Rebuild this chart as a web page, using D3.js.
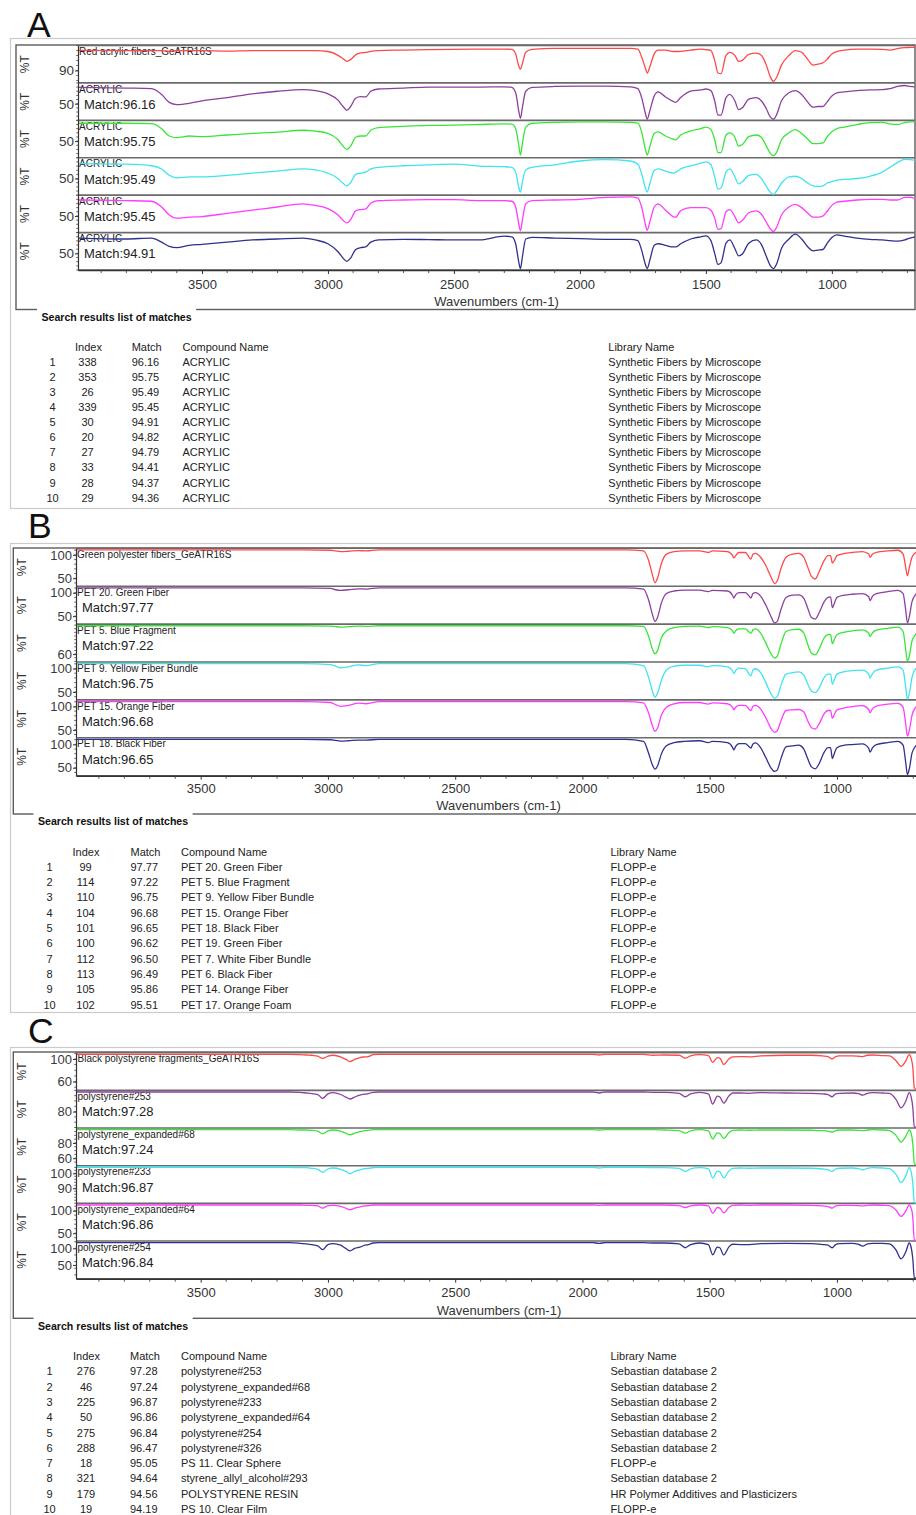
<!DOCTYPE html>
<html>
<head>
<meta charset="utf-8">
<script src="https://cdn.jsdelivr.net/npm/d3@7"></script>
<style>
  body { margin: 0; background: #fff; }
  svg { display: block; }
</style>
</head>
<body>
<svg id="fig" width="916" height="1515"></svg>
<script>
// ---------- Panel A: acrylic fibres ----------
const aWn = [3990,3800,3700,3660,3630,3600,3550,3500,3400,3300, 3200,3100,3050,3000,2960,2940,2925,2910,2890,2870,
  2850,2830,2800,2700,2600,2500,2400,2300,2270,2255, 2242,2236,2228,2215,2190,2100,2000,1900,1800,1770,
  1755,1740,1733,1722,1705,1690,1660,1630,1620,1600, 1560,1520,1500,1480,1465,1452,1440,1420,1405,1385,
  1370,1355,1330,1300,1280,1260,1245,1232,1220,1200, 1170,1145,1120,1095,1075,1055,1035,1020,1000,980,
  950,900,850,800,770,740,710,690,670];
const aRedSample = [98.4,98.3,98.3,98.3,98.1,98.3,98.3,98.3,98.1,98.3, 98.3,98.3,98.3,97.9,96.3,94.9,93.8,94.5,96.5,97.3,
  97.5,98.0,98.3,98.5,98.7,98.8,98.9,98.9,98.8,96.9, 91.6,90.5,92.9,97.6,98.8,99.2,99.2,99.2,99.2,98.9,
  95.6,90.9,88.9,91.6,96.9,98.5,98.5,97.9,97.9,98.0, 98.5,98.9,98.7,98.3,94.2,88.9,88.6,96.3,97.5,96.3,
  93.8,94.2,96.7,97.2,96.3,92.2,87.5,85.4,86.9,92.2, 96.3,98.3,97.6,94.5,92.2,92.6,93.2,94.5,96.9,97.9,
  98.5,98.9,98.9,98.8,98.5,99.1,99.5,99.6,99.7];
const aAcrylic338 = [91.2,89.6,88.0,73.6,53.6,48.0,51.2,57.6,65.6,75.2, 81.6,85.6,83.2,75.2,59.2,43.2,33.6,43.2,64.0,68.0,
  67.2,81.6,87.2,89.6,92.0,92.0,92.0,92.8,91.2,77.6, 29.6,13.6,41.6,81.6,91.2,93.6,94.4,94.4,92.8,88.0,
  65.6,25.6,11.2,33.6,69.6,80.0,67.2,56.0,53.6,65.6, 81.6,84.8,87.2,83.2,57.6,21.6,21.6,65.6,73.6,57.6,
  35.2,40.0,61.6,65.6,57.6,37.6,17.6,11.2,21.6,57.6, 77.6,83.2,73.6,53.6,41.6,43.2,43.2,53.6,69.6,77.6,
  80.0,83.2,84.8,85.6,88.0,93.6,96.0,93.6,92.8];
const aAcrylic353 = [95.2,95.2,94.4,81.6,63.2,59.2,63.2,61.6,65.6,69.6, 72.8,77.6,75.2,69.6,53.6,37.6,29.6,37.6,60.0,63.2,
  63.2,77.6,84.0,87.2,89.6,90.4,92.0,93.6,92.8,81.6, 37.6,15.2,45.6,85.6,95.2,97.6,98.4,98.4,97.6,95.2,
  73.6,29.6,15.2,37.6,69.6,73.6,63.2,55.2,53.6,65.6, 76.0,81.6,85.6,79.2,53.6,21.6,21.6,65.6,71.2,60.0,
  37.6,41.6,61.6,65.6,60.0,37.6,20.0,13.6,21.6,53.6, 71.2,79.2,69.6,55.2,44.0,44.0,45.6,60.0,73.6,81.6,
  85.6,92.0,96.8,97.6,93.6,92.0,96.8,98.4,98.4];
const aAcrylic26 = [88.0,86.4,82.4,74.4,58.4,52.0,54.4,54.4,58.4,64.0, 68.8,74.4,72.0,64.0,50.4,38.4,32.0,40.0,60.8,64.0,
  66.4,74.4,78.4,82.4,84.8,86.4,81.6,80.0,78.4,66.4, 26.4,16.0,42.4,72.0,78.4,84.8,94.4,97.6,94.4,86.4,
  62.4,26.4,16.0,38.4,70.4,74.4,68.8,64.0,65.6,74.4, 82.4,88.8,92.0,84.8,54.4,24.0,26.4,66.4,74.4,54.4,
  36.8,42.4,58.4,60.8,50.4,30.4,16.0,10.4,18.4,38.4, 54.4,56.0,50.4,38.4,32.0,30.4,32.0,38.4,42.4,46.4,
  48.0,50.4,56.0,66.4,78.4,90.4,98.4,97.6,96.0];
const aAcrylic339 = [90.4,88.8,87.2,72.8,52.8,44.8,47.2,48.8,56.8,64.8, 72.8,80.8,76.8,68.8,52.8,39.2,32.8,40.8,63.2,66.4,
  68.0,82.4,88.8,90.4,91.2,91.2,88.8,88.8,87.2,72.8, 28.8,12.8,40.8,80.8,88.8,90.4,92.0,96.8,98.4,95.2,
  72.8,28.8,14.4,36.8,72.8,80.8,64.8,48.8,47.2,63.2, 71.2,71.2,71.2,64.8,44.8,16.8,18.4,60.8,66.4,48.8,
  32.8,39.2,58.4,63.2,55.2,34.4,18.4,11.2,20.8,52.8, 72.8,79.2,71.2,56.8,47.2,47.2,50.4,60.8,76.8,84.8,
  87.2,90.4,92.0,92.0,90.4,90.4,96.8,96.8,93.6];
const aAcrylic30 = [88.8,86.4,88.8,78.4,68.0,64.8,70.4,72.8,78.4,84.0, 86.4,88.8,84.0,74.4,54.4,38.4,30.4,38.4,60.0,64.8,
  66.4,78.4,84.0,85.6,84.8,84.0,84.0,93.6,92.0,74.4, 26.4,12.0,42.4,86.4,90.4,88.8,87.2,85.6,85.6,82.4,
  58.4,22.4,12.0,34.4,70.4,74.4,70.4,66.4,66.4,74.4, 86.4,92.0,94.4,82.4,50.4,22.4,26.4,76.0,84.0,62.4,
  44.0,48.8,76.0,84.0,72.8,42.4,20.0,12.0,22.4,62.4, 86.4,98.4,86.4,66.4,56.8,58.4,60.0,74.4,90.4,96.8,
  93.6,88.8,85.6,84.0,82.4,80.8,84.0,88.8,92.0];
const aNames = ["Red acrylic fibers_GeATR16S", "ACRYLIC", "ACRYLIC", "ACRYLIC", "ACRYLIC", "ACRYLIC"];
const aYDomains = [[85, 100], [10, 100], [10, 100], [10, 100], [10, 100], [10, 100]];
const aYTicks = [[90], [50], [50], [50], [50], [50]];
const aTableIndex = [338, 353, 26, 339, 30, 20, 27, 33, 28, 29];
const aTableMatch = [96.16, 95.75, 95.49, 95.45, 94.91, 94.82, 94.79, 94.41, 94.37, 94.36];
const aTableCompound = ["ACRYLIC", "ACRYLIC", "ACRYLIC", "ACRYLIC", "ACRYLIC", "ACRYLIC", "ACRYLIC", "ACRYLIC", "ACRYLIC", "ACRYLIC"];
const aTableLibrary = Array(10).fill("Synthetic Fibers by Microscope");

// ---------- Panel B: polyester (PET) fibres ----------
const bWn = [3990,3500,3100,2990,2970,2950,2920,2880,2850,2800, 2400,2000,1830,1760,1740,1725,1715,1705,1690,1670,
  1640,1600,1540,1505,1490,1430,1410,1405,1398,1385, 1360,1345,1338,1330,1320,1300,1280,1260,1245,1235,
  1220,1200,1175,1150,1130,1115,1100,1085,1070,1050, 1035,1025,1018,1010,1000,970,940,900,875,870,
  860,845,800,760,740,730,723,715,705,690, 670,650];
const bGreenSample = [112.6,112.6,112.6,111.9,110.4,109.0,109.7,111.2,110.4,112.6, 112.6,112.6,112.6,110.4,89.1,57.0,39.2,49.9,81.9,103.3,
  109.0,110.4,110.4,106.9,110.4,109.0,99.8,94.8,99.8,106.9, 106.9,96.2,91.9,103.3,104.7,96.2,78.4,53.4,37.8,42.8,
  71.3,96.2,103.3,104.7,96.2,74.8,53.4,47.7,64.1,89.1, 99.8,99.8,83.4,89.1,99.8,104.7,106.9,109.0,103.3,96.2,
  103.3,106.9,110.4,111.9,103.3,74.8,54.9,74.8,96.2,106.9, 111.9,113.3];
const bPet20 = [112.6,112.6,112.6,111.2,108.3,106.9,108.3,110.4,109.7,112.6, 112.6,112.6,112.6,109.7,85.5,53.4,37.8,46.3,78.4,99.8,
  105.5,107.6,107.6,104.0,106.9,105.5,95.5,89.8,96.9,101.9, 101.9,94.1,89.8,99.8,101.9,94.1,74.8,49.9,34.2,37.1,
  64.1,91.2,96.2,96.9,89.1,67.7,46.3,42.8,57.0,81.9, 91.2,92.6,68.4,78.4,91.2,96.2,98.3,99.8,92.6,84.1,
  94.1,99.8,104.0,106.9,99.8,64.1,34.2,49.9,81.9,98.3, 106.9,110.4];
const bPet5 = [100.5,100.5,100.5,100.0,99.1,98.6,99.1,100.0,99.6,100.5, 100.5,100.5,100.5,99.6,85.3,66.9,60.0,64.6,83.0,93.1,
  97.7,99.6,100.0,97.7,99.1,97.7,93.1,89.4,93.1,95.9, 95.9,91.3,89.4,94.5,95.9,89.9,76.1,60.9,54.0,56.3,
  73.8,92.2,95.0,95.4,89.9,73.8,60.9,58.6,66.9,83.0, 87.6,87.6,74.7,80.7,87.6,91.3,93.1,94.5,89.9,84.8,
  90.4,94.0,96.8,98.6,92.2,66.9,49.4,57.7,78.4,88.5, 95.9,98.6];
const bPet9 = [112.6,112.6,112.6,110.4,106.9,103.3,105.5,109.7,108.3,112.6, 112.6,112.6,112.6,108.3,81.9,51.3,37.8,46.3,74.8,98.3,
  106.9,109.0,109.0,105.5,108.3,105.5,96.2,90.5,96.9,102.6, 101.2,89.1,85.5,98.3,101.2,92.6,71.3,46.3,35.6,38.5,
  64.1,89.1,92.6,94.1,86.9,67.7,51.3,47.7,58.4,81.9, 89.1,89.1,66.3,77.0,89.1,94.8,96.9,98.3,89.1,80.5,
  90.5,98.3,102.6,105.5,98.3,60.6,33.5,46.3,81.9,101.2, 105.5,108.3];
const bPet15 = [112.6,112.6,112.6,110.4,105.5,101.9,104.0,109.0,107.6,112.6, 112.6,112.6,112.6,109.7,86.9,58.4,46.3,53.4,81.9,99.8,
  107.6,110.4,110.4,106.9,109.7,107.6,99.8,94.1,99.8,104.0, 104.0,95.5,92.6,101.9,104.0,96.2,77.0,53.4,44.2,47.0,
  69.8,92.6,94.1,94.8,89.1,69.8,54.2,51.3,62.7,85.5, 92.6,92.6,74.8,84.1,94.1,98.3,101.2,103.3,94.8,87.6,
  96.9,102.6,106.9,108.3,99.8,64.1,35.6,49.9,81.9,99.8, 106.9,109.7];
const bPet18 = [112.6,112.6,112.6,111.9,110.4,109.0,109.7,111.2,111.2,112.6, 112.6,112.6,112.6,108.3,81.9,55.6,46.3,53.4,79.8,98.3,
  105.5,108.3,109.7,105.5,108.3,105.5,94.8,89.1,96.9,103.3, 103.3,96.2,93.3,102.6,104.7,94.1,72.7,49.9,41.3,44.2,
  69.8,96.2,98.3,99.8,91.2,69.8,51.3,47.0,58.4,84.1, 94.1,94.1,69.8,81.9,94.1,99.8,101.2,102.6,92.6,84.1,
  94.1,101.2,105.5,108.3,99.8,62.7,34.2,48.4,81.9,98.3, 105.5,108.3];
const bNames = ["Green polyester fibers_GeATR16S", "PET 20. Green Fiber", "PET 5. Blue Fragment", "PET 9. Yellow Fiber Bundle", "PET 15. Orange Fiber", "PET 18. Black Fiber"];
const bYDomains = [[33, 114], [33, 114], [49.1, 101.4], [33, 114], [33, 114], [33, 114]];
const bYTicks = [[50, 100], [50, 100], [60], [50, 100], [50, 100], [50, 100]];
const bTableIndex = [99, 114, 110, 104, 101, 100, 112, 113, 105, 102];
const bTableMatch = [97.77, 97.22, 96.75, 96.68, 96.65, 96.62, 96.50, 96.49, 95.86, 95.51];
const bTableCompound = ["PET 20. Green Fiber", "PET 5. Blue Fragment", "PET 9. Yellow Fiber Bundle", "PET 15. Orange Fiber", "PET 18. Black Fiber",
  "PET 19. Green Fiber", "PET 7. White Fiber Bundle", "PET 6. Black Fiber", "PET 14. Orange Fiber", "PET 17. Orange Foam"];
const bTableLibrary = Array(10).fill("FLOPP-e");

// ---------- Panel C: polystyrene fragments ----------
const cWn = [3990,3500,3150,3110,3085,3064,3040,3021,3000,2980, 2950,2930,2913,2895,2874,2855,2841,2822,2800,2400,
  1960,1934,1910,1760,1724,1680,1620,1596,1575,1540, 1505,1488,1470,1460,1445,1425,1410,1380,1344,1300,
  1200,1100,1056,1035,1019,1005,991,940,915,899, 880,860,820,794,768,748,729,716,708,702,
  696,685,660];
const cBlackSample = [110.0,110.0,110.0,109.4,108.8,108.3,106.5,102.4,106.5,108.3, 105.3,100.6,96.5,100.6,104.1,105.3,105.9,109.4,110.0,110.0,
  110.0,108.8,110.0,110.0,108.3,108.8,108.3,103.0,107.1,109.4, 107.7,95.3,104.1,103.0,91.2,101.2,105.3,105.9,105.3,107.1,
  108.3,108.3,107.1,105.9,101.2,105.9,107.1,107.1,106.5,105.9, 108.3,108.8,107.7,107.1,98.3,87.7,98.3,109.4,102.4,86.5,
  48.3,34.8,28.9];
const cPs253 = [99.4,99.4,99.4,99.1,98.4,97.8,96.9,93.1,97.5,98.8, 96.9,94.4,92.5,94.4,96.3,97.2,97.8,99.1,99.4,99.4,
  99.4,98.4,99.4,99.4,99.1,99.1,98.1,94.7,97.5,99.1, 97.5,87.5,95.3,94.4,88.4,95.3,98.4,98.4,98.1,98.8,
  98.4,98.1,97.5,96.9,94.7,97.5,98.1,98.4,97.8,96.3, 98.1,98.8,98.4,98.1,92.2,83.8,90.6,98.8,94.4,84.4,
  65.0,59.4,56.3];
const cPsExp68 = [98.7,98.7,98.7,98.3,98.3,97.9,96.6,93.1,97.0,98.3, 96.6,93.9,91.8,93.9,96.1,97.4,97.9,98.7,98.7,98.7,
  98.7,98.3,98.7,98.7,98.7,98.3,97.4,93.9,97.0,98.7, 97.0,86.1,94.4,93.5,86.6,94.4,97.9,98.3,97.9,98.3,
  98.3,97.9,97.4,96.6,95.3,97.4,98.3,98.3,97.9,97.4, 98.3,98.7,98.3,97.4,90.9,81.8,90.0,98.3,93.1,80.0,
  52.6,45.2,40.9];
const cPs233 = [104.7,104.7,104.7,104.4,104.4,104.0,103.3,101.1,103.5,104.2, 103.3,101.8,100.2,101.8,102.9,103.8,104.0,104.4,104.7,104.7,
  104.7,104.2,104.7,104.7,104.4,104.4,104.0,101.8,103.5,104.4, 103.5,97.3,102.0,101.5,97.3,102.0,104.0,104.2,104.0,104.2,
  104.2,104.0,103.5,103.1,101.8,103.5,104.0,104.2,103.8,102.9, 104.0,104.4,104.2,103.8,99.8,94.0,98.9,104.4,101.1,94.0,
  79.6,76.2,74.0];
const cPsExp64 = [114.7,114.7,114.7,114.7,114.0,114.0,112.5,107.4,113.3,114.0, 111.8,107.4,103.7,107.4,110.3,112.5,113.3,114.7,114.7,114.7,
  114.7,114.0,114.7,114.7,114.7,114.7,113.3,108.9,112.5,114.7, 112.5,95.6,108.9,107.4,96.4,108.9,114.0,114.7,114.0,114.7,
  114.7,114.0,112.5,111.1,107.4,112.5,114.0,114.0,113.3,112.5, 114.0,114.7,114.0,113.3,103.0,88.3,101.5,114.7,107.4,86.8,
  33.9,20.7,13.3];
const cPs254 = [120,120,120,118,116,114,110,98,114,117, 112,102,94,102,106,112,114,119,120,120,
  120,118,120,120,119,119,116,104,114,119, 114,82,106,104,81,106,115,114,114,117,
  118,117,114,112,104,114,117,118,115,109, 116,118,118,116,97,69,92,119,104,70,
  10,6,4];
const cNames = ["Black polystyrene fragments_GeATR16S", "polystyrene#253", "polystyrene_expanded#68", "polystyrene#233", "polystyrene_expanded#64", "polystyrene#254"];
const cYDomains = [[44.4, 111.2], [64.5, 100], [50.2, 99.6], [79.9, 105.1], [32.7, 116.2], [8.4, 122]];
const cYTicks = [[60, 100], [80], [60, 80], [90, 100], [50, 100], [50, 100]];
const cTableIndex = [276, 46, 225, 50, 275, 288, 18, 321, 179, 19];
const cTableMatch = [97.28, 97.24, 96.87, 96.86, 96.84, 96.47, 95.05, 94.64, 94.56, 94.19];
const cTableCompound = ["polystyrene#253", "polystyrene_expanded#68", "polystyrene#233", "polystyrene_expanded#64", "polystyrene#254",
  "polystyrene#326", "PS 11. Clear Sphere", "styrene_allyl_alcohol#293", "POLYSTYRENE RESIN", "PS 10. Clear Film"];
const cTableLibrary = ["Sebastian database 2", "Sebastian database 2", "Sebastian database 2", "Sebastian database 2", "Sebastian database 2",
  "Sebastian database 2", "FLOPP-e", "Sebastian database 2", "HR Polymer Additives and Plasticizers", "FLOPP-e"];

// ---------- shared axis / header text ----------
const xTickValues = [3500, 3000, 2500, 2000, 1500, 1000];
const xTitle = "Wavenumbers (cm-1)";
const yTitle = "%T";
const captionText = "Search results list of matches";
const tableHeaders = ["Index", "Match", "Compound Name", "Library Name"];

// ---------- layout and styling ----------
const FONT = '"Liberation Sans", Arial, Helvetica, sans-serif';
const traceColors = ["#ff4848", "#8d3f9f", "#38e638", "#3fe4f0", "#ff3cff", "#30308f"];

const panels = [
  { letter: "A", letterPos: [27, 37.3],
    outer: { x: 10, y: 38, r: 930, b: 508 }, inner: { x: 16, y: 45, r: 915, b: 309.5 },
    plot: { left: 78, right: 915, top: 45.5, bottom: 270 }, xDomain: [3992, 670],
    pctX: 25, yFont: 13.5, nameX: 79, matchX: 84, tickY: 289, titlePos: [496.5, 305.7],
    caption: [41.5, 320.5],
    table: { head: 350.7, row0: 365.7, step: 15.1, num: 52.5, idx: 87.5, idxHead: 75, match: 131.7, comp: 182.5, lib: 608.3 },
    wn: aWn, spectra: [aRedSample, aAcrylic338, aAcrylic353, aAcrylic26, aAcrylic339, aAcrylic30],
    names: aNames, yDomains: aYDomains, yTicks: aYTicks,
    tIndex: aTableIndex, tMatch: aTableMatch, tCompound: aTableCompound, tLibrary: aTableLibrary },
  { letter: "B", letterPos: [28, 538.3],
    outer: { x: 10, y: 543, r: 930, b: 1012 }, inner: { x: 13.3, y: 548, r: 930, b: 814 },
    plot: { left: 76, right: 926, top: 548.3, bottom: 775.7 }, xDomain: [3990, 650],
    pctX: 22, yFont: 13, nameX: 77, matchX: 82, tickY: 793, titlePos: [498.5, 810.4],
    caption: [38, 824.5],
    table: { head: 855.6, row0: 870.6, step: 15.33, num: 49.5, idx: 85.5, idxHead: 72.5, match: 130.5, comp: 181, lib: 610.5 },
    wn: bWn, spectra: [bGreenSample, bPet20, bPet5, bPet9, bPet15, bPet18],
    names: bNames, yDomains: bYDomains, yTicks: bYTicks,
    tIndex: bTableIndex, tMatch: bTableMatch, tCompound: bTableCompound, tLibrary: bTableLibrary },
  { letter: "C", letterPos: [28, 1042.8],
    outer: { x: 10, y: 1047, r: 930, b: 1530 }, inner: { x: 13.3, y: 1052, r: 930, b: 1318.3 },
    plot: { left: 76, right: 926, top: 1052.7, bottom: 1278.7 }, xDomain: [3990, 650],
    pctX: 22, yFont: 13, nameX: 77.5, matchX: 82, tickY: 1297.4, titlePos: [499, 1314.7],
    caption: [38, 1330],
    table: { head: 1360.4, row0: 1375.4, step: 15.29, num: 49.5, idx: 86, idxHead: 73, match: 130, comp: 181, lib: 610.5 },
    wn: cWn, spectra: [cBlackSample, cPs253, cPsExp68, cPs233, cPsExp64, cPs254],
    names: cNames, yDomains: cYDomains, yTicks: cYTicks,
    tIndex: cTableIndex, tMatch: cTableMatch, tCompound: cTableCompound, tLibrary: cTableLibrary }
];

const svg = d3.select("#fig").attr("font-family", FONT);
svg.append("rect").attr("width", 916).attr("height", 1515).attr("fill", "#fff");
const defs = svg.append("defs");

function drawPanel(p, k) {
  const g = svg.append("g");

  // frames
  g.append("rect")
    .attr("x", p.outer.x + 0.5).attr("y", p.outer.y + 0.5)
    .attr("width", p.outer.r - p.outer.x).attr("height", p.outer.b - p.outer.y)
    .attr("fill", "none").attr("stroke", "#cbcbcb").attr("stroke-width", 1.2);
  g.append("rect")
    .attr("x", p.inner.x).attr("y", p.inner.y)
    .attr("width", p.inner.r - p.inner.x).attr("height", p.inner.b - p.inner.y)
    .attr("fill", "none").attr("stroke", "#5c5c5c").attr("stroke-width", 1.4);

  // panel letter
  g.append("text").attr("x", p.letterPos[0]).attr("y", p.letterPos[1])
    .attr("font-size", 35.5).attr("fill", "#111").text(p.letter);

  const x = d3.scaleLinear().domain(p.xDomain).range([p.plot.left, p.plot.right]);
  const nRows = p.spectra.length;
  const rowH = (p.plot.bottom - p.plot.top) / nRows;

  const clipId = "plotclip" + k;
  defs.append("clipPath").attr("id", clipId).append("rect")
    .attr("x", p.plot.left).attr("y", p.plot.top - 2)
    .attr("width", p.plot.right - p.plot.left).attr("height", p.plot.bottom - p.plot.top + 4);

  const labelG = g.append("g");
  const sepG = g.append("g");
  const traceG = g.append("g").attr("clip-path", `url(#${clipId})`);
  const axisG = g.append("g");

  p.spectra.forEach((vals, i) => {
    const top = p.plot.top + i * rowH;
    const bot = top + rowH;
    const y = d3.scaleLinear().domain(p.yDomains[i]).range([bot, top]);

    // vertical axis title for the strip
    labelG.append("text")
      .attr("transform", `translate(${p.pctX},${(top + bot) / 2}) rotate(-90)`)
      .attr("text-anchor", "middle").attr("dy", "0.36em")
      .attr("font-size", 12).attr("fill", "#333").text(yTitle);

    // strip y axis
    const ax = axisG.append("g").attr("transform", `translate(${p.plot.left},0)`);
    ax.call(d3.axisLeft(y).tickValues(p.yTicks[i]).tickSize(3).tickSizeOuter(0)
      .tickPadding(1).tickFormat(d3.format("d")));
    ax.select(".domain").attr("stroke", "#333").attr("stroke-width", 1.2);
    ax.selectAll(".tick line").attr("stroke", "#333");
    ax.selectAll(".tick text").attr("font-size", p.yFont).attr("fill", "#3a3a3a")
      .attr("font-family", FONT);
    ax.selectAll("line.minor").data(y.ticks(8)).join("line").attr("class", "minor")
      .attr("x1", -1.8).attr("x2", 0).attr("y1", d => y(d)).attr("y2", d => y(d))
      .attr("stroke", "#444").attr("stroke-width", 0.8);

    // spectrum name and match score
    labelG.append("text").attr("x", p.nameX).attr("y", top + 9.6)
      .attr("font-size", 10).attr("fill", "#222").text(p.names[i]);
    if (i > 0) {
      labelG.append("text").attr("x", p.matchX).attr("y", top + 25.8)
        .attr("font-size", 13).attr("fill", "#222")
        .text("Match:" + p.tMatch[i - 1].toFixed(2));
    }

    // spectrum trace (values outside the strip range sit on its edge)
    const yDraw = d3.scaleLinear().domain(p.yDomains[i]).range([bot - 0.6, top + 1]).clamp(true);
    const line = d3.line()
      .x((d, j) => x(p.wn[j]))
      .y(d => yDraw(d))
      .curve(d3.curveMonotoneX);
    traceG.append("path").datum(vals)
      .attr("fill", "none").attr("stroke", traceColors[i])
      .attr("stroke-width", 1.3).attr("stroke-linejoin", "round")
      .attr("d", line);
  });

  // strip separators
  sepG.selectAll("line").data(d3.range(nRows + 1)).join("line")
    .attr("x1", p.plot.left).attr("x2", p.plot.right)
    .attr("y1", d => p.plot.top + d * rowH).attr("y2", d => p.plot.top + d * rowH)
    .attr("stroke", "#6a6a6a").attr("stroke-width", 1.6);

  // wavenumber axis
  const pad = (p.tickY - p.plot.bottom) - 9.2 - 4;
  const xa = axisG.append("g").attr("transform", `translate(0,${p.plot.bottom})`);
  xa.call(d3.axisBottom(x).tickValues(xTickValues).tickSize(4).tickSizeOuter(0)
    .tickPadding(pad).tickFormat(d3.format("d")));
  xa.select(".domain").attr("stroke", "#333").attr("stroke-width", 1.4);
  xa.selectAll(".tick line").attr("stroke", "#333");
  xa.selectAll(".tick text").attr("font-size", 13).attr("fill", "#333").attr("font-family", FONT);
  xa.selectAll("line.minor").data(x.ticks(40).filter(v => xTickValues.indexOf(v) < 0)).join("line")
    .attr("class", "minor").attr("x1", d => x(d)).attr("x2", d => x(d))
    .attr("y1", 0).attr("y2", 3).attr("stroke", "#444").attr("stroke-width", 0.9);

  g.append("text").attr("x", p.titlePos[0]).attr("y", p.titlePos[1])
    .attr("text-anchor", "middle").attr("font-size", 13).attr("fill", "#333").text(xTitle);

  // results table caption, breaking the frame line
  const cap = g.append("text").attr("x", p.caption[0]).attr("y", p.caption[1])
    .attr("font-size", 10.6).attr("font-weight", "bold").attr("fill", "#111").text(captionText);
  const capW = cap.node().getComputedTextLength();
  g.insert("rect", () => cap.node())
    .attr("x", p.caption[0] - 4.5).attr("y", p.inner.b - 2.5)
    .attr("width", capW + 9).attr("height", 5).attr("fill", "#fff");

  // results table
  const t = p.table;
  const tg = g.append("g").attr("font-size", 11).attr("fill", "#222");
  tg.append("text").attr("x", t.idxHead).attr("y", t.head).text(tableHeaders[0]);
  tg.append("text").attr("x", t.match).attr("y", t.head).text(tableHeaders[1]);
  tg.append("text").attr("x", t.comp).attr("y", t.head).text(tableHeaders[2]);
  tg.append("text").attr("x", t.lib).attr("y", t.head).text(tableHeaders[3]);
  p.tIndex.forEach((idx, r) => {
    const yy = t.row0 + r * t.step;
    tg.append("text").attr("x", t.num).attr("y", yy).attr("text-anchor", "middle").text(r + 1);
    tg.append("text").attr("x", t.idx).attr("y", yy).attr("text-anchor", "middle").text(idx);
    tg.append("text").attr("x", t.match).attr("y", yy).text(p.tMatch[r].toFixed(2));
    tg.append("text").attr("x", t.comp).attr("y", yy).text(p.tCompound[r]);
    tg.append("text").attr("x", t.lib).attr("y", yy).text(p.tLibrary[r]);
  });
}

panels.forEach(drawPanel);
</script>
</body>
</html>
